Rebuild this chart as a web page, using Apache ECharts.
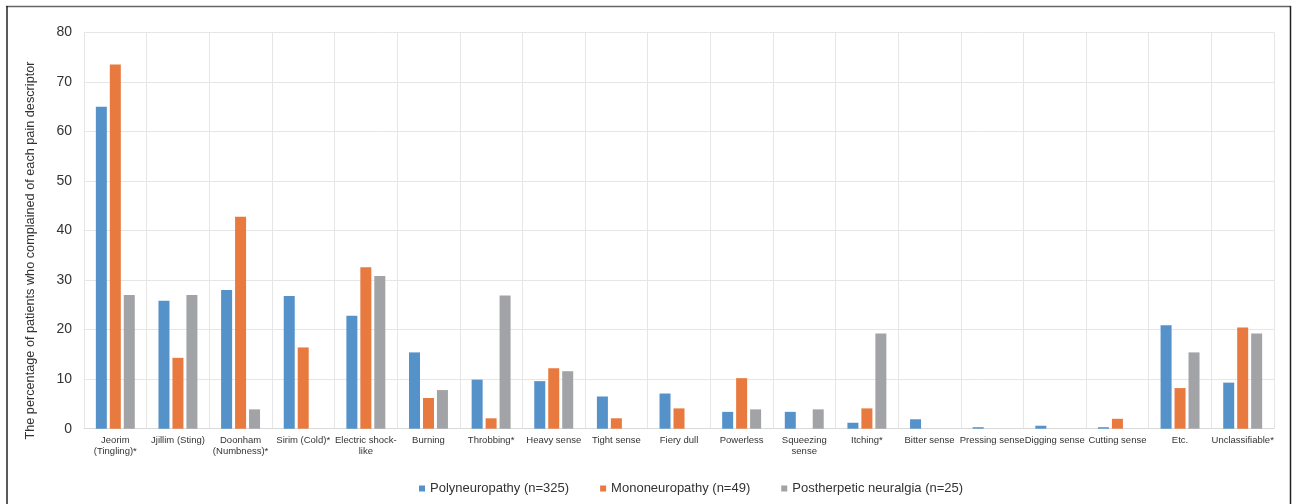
<!DOCTYPE html>
<html>
<head>
<meta charset="utf-8">
<script src="https://cdn.jsdelivr.net/npm/echarts@6/dist/echarts.min.js"></script>
<style>
html,body{margin:0;padding:0;background:#fff;}
#chart{width:1292px;height:504px;}
</style>
</head>
<body>
<div id="chart"></div>
<script>
const categories = ['Jeorim\n(Tingling)*','Jjillim (Sting)','Doonham\n(Numbness)*','Sirim (Cold)*','Electric shock-\nlike','Burning','Throbbing*','Heavy sense','Tight sense','Fiery dull','Powerless','Squeezing\nsense','Itching*','Bitter sense','Pressing sense','Digging sense','Cutting sense','Etc.','Unclassifiable*'];
const seriesNames = ['Polyneuropathy (n=325)','Mononeuropathy (n=49)','Postherpetic neuralgia (n=25)'];
const poly = [65, 25.8, 28, 26.8, 22.8, 15.4, 9.9, 9.6, 6.5, 7.1, 3.4, 3.4, 1.2, 1.9, 0.3, 0.6, 0.3, 20.9, 9.3];
const mono = [73.5, 14.3, 42.8, 16.4, 32.6, 6.2, 2.1, 12.2, 2.1, 4.1, 10.2, 0, 4.1, 0, 0, 0, 2.0, 8.2, 20.4];
const post = [27, 27, 3.9, 0, 30.8, 7.8, 26.9, 11.6, 0, 0, 3.9, 3.9, 19.2, 0, 0, 0, 0, 15.4, 19.2];
const yTicks = [0, 10, 20, 30, 40, 50, 60, 70, 80];
const colors = ['#5592C9', '#E8793F', '#A2A3A6'];

const chart = echarts.init(document.getElementById('chart'), null, {renderer: 'canvas'});
const mk = (name, data, i) => ({
  name, type: 'bar', data,
  barWidth: 11, barGap: '27%',
  itemStyle: {color: colors[i]},
  emphasis: {disabled: true}
});
chart.setOption({
  animation: false,
  backgroundColor: '#fff',
  textStyle: {fontFamily: 'Liberation Sans, Arial, sans-serif'},
  graphic: [
    {type: 'line', shape: {x1: 6, y1: 6.5, x2: 1291, y2: 6.5}, style: {stroke: '#666', lineWidth: 1.5}},
    {type: 'line', shape: {x1: 7, y1: 6, x2: 7, y2: 504}, style: {stroke: '#222', lineWidth: 1.5}},
    {type: 'line', shape: {x1: 1290.5, y1: 6, x2: 1290.5, y2: 504}, style: {stroke: '#222', lineWidth: 1.5}}
  ],
  grid: {left: 84, right: 18, top: 32.3, bottom: 75.3, containLabel: false},
  legend: {
    data: seriesNames, top: 477, left: 414,
    itemWidth: 6, itemHeight: 6, itemGap: 31, icon: 'rect',
    textStyle: {fontSize: 13, color: '#333', fontFamily: 'Liberation Sans, Arial, sans-serif'}
  },
  xAxis: {
    type: 'category', data: categories,
    axisTick: {show: false},
    axisLine: {lineStyle: {color: '#d9d9d9'}},
    splitLine: {show: true, lineStyle: {color: '#e6e6e6'}},
    axisLabel: {fontSize: 9.5, color: '#333', interval: 0, margin: 6, lineHeight: 11}
  },
  yAxis: {
    type: 'value', min: 0, max: 80, interval: 10,
    name: 'The percentage of patients who complained of each pain descriptor',
    nameLocation: 'middle', nameGap: 47, nameRotate: 90,
    nameTextStyle: {fontSize: 12.7, color: '#333', padding: [0, 40, 0, 0]},
    axisLine: {show: false}, axisTick: {show: false},
    splitLine: {lineStyle: {color: '#e6e6e6'}},
    axisLabel: {fontSize: 14, color: '#333', margin: 12,
      formatter: v => yTicks.includes(v) ? String(v) : ''}
  },
  series: [mk(seriesNames[0], poly, 0), mk(seriesNames[1], mono, 1), mk(seriesNames[2], post, 2)]
});
</script>
</body>
</html>
